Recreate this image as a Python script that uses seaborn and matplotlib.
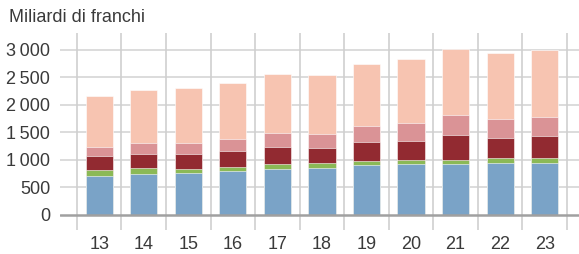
import numpy as np
import pandas as pd
import seaborn as sns
import matplotlib.pyplot as plt

# Values (billions of francs), bottom segment first
years = ["13", "14", "15", "16", "17", "18", "19", "20", "21", "22", "23"]
blue = [715, 745, 755, 795, 840, 860, 905, 935, 935, 950, 940]
green = [105, 105, 90, 85, 90, 80, 85, 70, 70, 80, 100]
dark_red = [255, 260, 265, 280, 310, 275, 335, 345, 445, 370, 390]
pink = [170, 205, 205, 225, 255, 250, 285, 320, 375, 340, 360]
salmon = [925, 955, 995, 1015, 1065, 1080, 1130, 1160, 1200, 1205, 1215]

y_ticks = [0, 500, 1000, 1500, 2000, 2500, 3000]
y_labels = ["0", "500", "1\u2009000", "1\u2009500", "2\u2009000", "2\u2009500", "3\u2009000"]

layers = [blue, green, dark_red, pink, salmon]
colors = ["#7aa3c7", "#8bb956", "#922a31", "#da9396", "#f7c4b1"]

df = pd.DataFrame({"year": years})
tops = np.cumsum(np.array(layers), axis=0)

sns.set_style("white")
plt.rcParams["font.family"] = ["Liberation Sans", "DejaVu Sans"]
text_col = "#3a3a3a"

fig = plt.figure(figsize=(5.79, 2.54), dpi=100)
ax = fig.add_axes([60 / 579, 1 - 230 / 254, 519 / 579, 197 / 254])

# draw tallest cumulative first so lower layers cover it
for i in range(len(layers) - 1, -1, -1):
    df["top"] = tops[i]
    sns.barplot(data=df, x="year", y="top", color=colors[i], saturation=1,
                width=0.61, edgecolor="white", linewidth=0.4, ax=ax, zorder=3)

ax.set_xlim(-0.88, 10.77)
ax.set_ylim(-273, 3309)

for v in y_ticks[1:]:
    ax.axhline(v, color="#d6d6d6", lw=1.2, zorder=1)
ax.axhline(0, color="#a0a0a0", lw=1.8, zorder=4)
for b in np.arange(-0.5, 11, 1):
    ax.axvline(b, color="#cfcfcf", lw=1.2, zorder=1)

ax.set_yticks(y_ticks)
ax.set_yticklabels(y_labels)
ax.tick_params(axis="both", length=0, labelsize=13, colors=text_col)
ax.tick_params(axis="y", pad=7)
ax.tick_params(axis="x", pad=4)
ax.set_xlabel("")
ax.set_ylabel("")
for s in ax.spines.values():
    s.set_visible(False)

fig.text(9 / 579, 1 - 18 / 254, "Miliardi di franchi", fontsize=13,
         color=text_col, va="center", ha="left")

fig.savefig("out.png", dpi=100)
